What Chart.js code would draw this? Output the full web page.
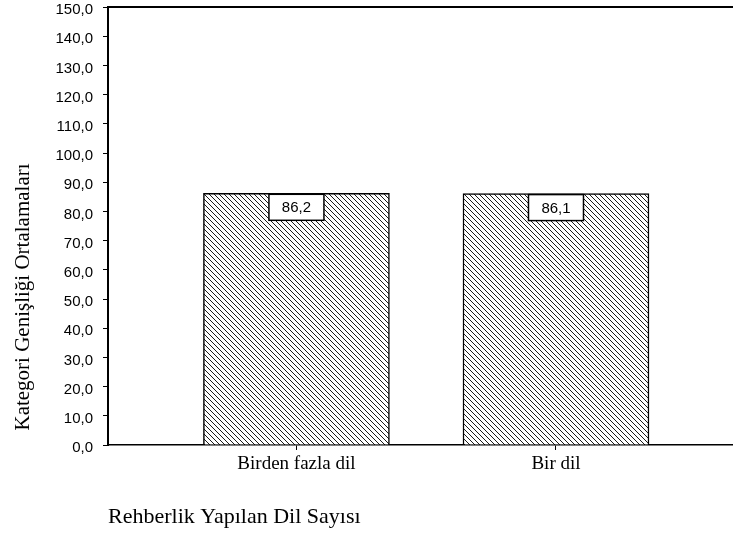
<!DOCTYPE html>
<html>
<head>
<meta charset="utf-8">
<script src="https://cdn.jsdelivr.net/npm/chart.js@4.4.0/dist/chart.umd.min.js"></script>
<style>
  html, body { margin: 0; padding: 0; background: #fff; }
  #wrap { width: 733px; height: 535px; position: relative; }
</style>
</head>
<body>
<div id="wrap"><canvas id="bar-chart"></canvas></div>
<script>
const categories = ['Birden fazla dil', 'Bir dil'];
const averages = [86.2, 86.1];
const yTicks = [0, 10, 20, 30, 40, 50, 60, 70, 80, 90, 100, 110, 120, 130, 140, 150];
const yTitle = 'Kategori Genişliği Ortalamaları';
const xTitle = 'Rehberlik Yapılan Dil Sayısı';

const sans = 'Arial, "Liberation Sans", Helvetica, sans-serif';
const serif = '"Times New Roman", "Liberation Serif", serif';

const fmt = (v) => v.toFixed(1).replace('.', ',');

// diagonal hatch, top-left to bottom-right
function hatch(size) {
  const c = document.createElement('canvas');
  c.width = size;
  c.height = size;
  const g = c.getContext('2d');
  g.fillStyle = '#fff';
  g.fillRect(0, 0, size, size);
  g.strokeStyle = '#000';
  g.lineWidth = 0.9;
  g.beginPath();
  for (let x = -size; x <= size; x += size) {
    g.moveTo(x, 0);
    g.lineTo(x + size, size);
  }
  g.stroke();
  return g.createPattern(c, 'repeat');
}

const extras = {
  id: 'extras',
  afterDatasetsDraw(chart) {
    const ctx = chart.ctx;
    const bars = chart.getDatasetMeta(0).data;
    ctx.save();
    ctx.font = '15px ' + sans;
    ctx.textAlign = 'center';
    ctx.textBaseline = 'middle';
    bars.forEach((bar, i) => {
      const w = 55, h = 26;
      const x = bar.x - w / 2, y = bar.y + 1;
      ctx.fillStyle = '#fff';
      ctx.fillRect(x, y, w, h);
      ctx.strokeStyle = '#000';
      ctx.lineWidth = 1.5;
      ctx.strokeRect(x, y, w, h);
      ctx.fillStyle = '#000';
      ctx.fillText(fmt(averages[i]), bar.x, y + h / 2 + 1);
    });
    ctx.restore();
  },
  afterDraw(chart) {
    const ctx = chart.ctx;
    const a = chart.chartArea;
    ctx.save();
    ctx.strokeStyle = '#000';
    ctx.lineWidth = 2;
    ctx.beginPath();
    ctx.moveTo(a.left - 1, a.top);
    ctx.lineTo(a.right, a.top);
    ctx.stroke();

    ctx.fillStyle = '#000';
    ctx.font = '21px ' + serif;
    ctx.textBaseline = 'middle';
    ctx.textAlign = 'center';
    ctx.translate(23, 297);
    ctx.rotate(-Math.PI / 2);
    ctx.fillText(yTitle, 0, 0);
    ctx.restore();

    ctx.save();
    ctx.fillStyle = '#000';
    ctx.font = '22px ' + serif;
    ctx.textAlign = 'left';
    ctx.textBaseline = 'alphabetic';
    ctx.fillText(xTitle, 108, 523);
    ctx.restore();
  },
};

new Chart('bar-chart', {
  type: 'bar',
  data: {
    datasets: [{
      data: categories.map((c, i) => ({ x: i + 1, y: averages[i] })),
      backgroundColor: hatch(5),
      borderColor: '#000',
      borderWidth: 1.5,
      borderSkipped: 'bottom',
      barThickness: 186,
    }],
  },
  options: {
    responsive: true,
    maintainAspectRatio: false,
    animation: false,
    layout: { padding: { top: 7, right: 0, bottom: 0, left: 0 } },
    plugins: {
      legend: { display: false },
      tooltip: { enabled: false },
    },
    scales: {
      x: {
        type: 'linear',
        offset: false,
        min: 0.274,
        max: 2.682,
        afterBuildTicks: (scale) => {
          scale.ticks = categories.map((c, i) => ({ value: i + 1 }));
        },
        afterFit: (scale) => {
          scale.height = 90;
          scale.paddingLeft = 0;
          scale.paddingRight = 0;
        },
        border: { color: '#000', width: 1.5 },
        grid: { offset: false, drawOnChartArea: false, drawTicks: true, tickLength: 5, color: '#000' },
        ticks: {
          padding: 3,
          color: '#000',
          font: { family: serif, size: 19 },
          callback: (v) => categories[v - 1] || '',
        },
      },
      y: {
        min: 0,
        max: 150,
        afterBuildTicks: (scale) => {
          scale.ticks = yTicks.map((v) => ({ value: v }));
        },
        afterFit: (scale) => {
          scale.width = 108;
          scale.paddingTop = 0;
          scale.paddingBottom = 0;
        },
        border: { color: '#000', width: 2 },
        grid: { drawOnChartArea: false, drawTicks: true, tickLength: 5, color: '#000' },
        ticks: {
          padding: 10,
          labelOffset: 3,
          color: '#000',
          font: { family: sans, size: 15 },
          callback: (v) => fmt(v),
        },
      },
    },
  },
  plugins: [extras],
});
</script>
</body>
</html>
